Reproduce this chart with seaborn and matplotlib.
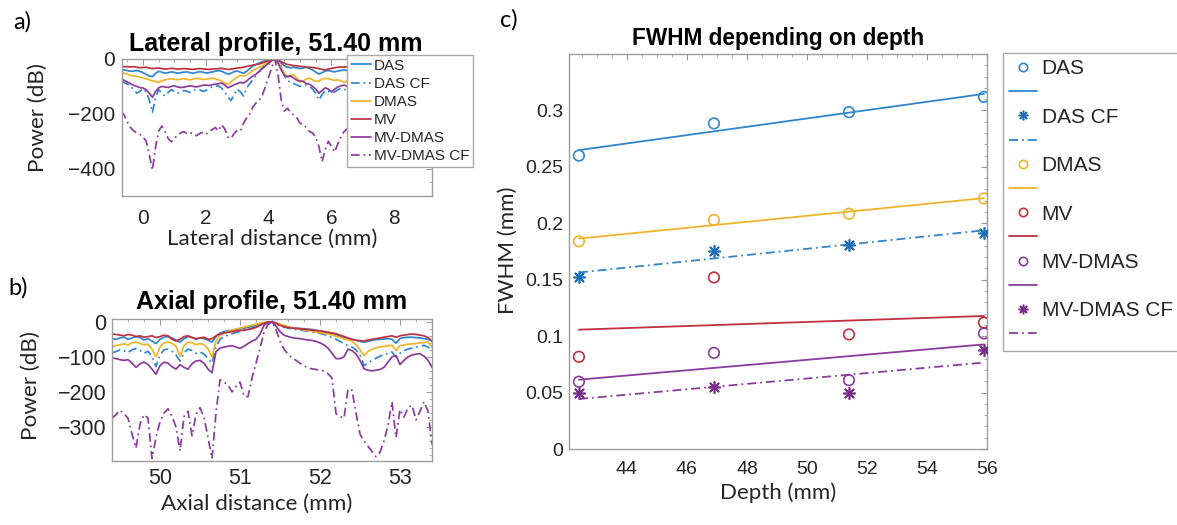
import numpy as np
import pandas as pd
import matplotlib
matplotlib.use("Agg")
import matplotlib.pyplot as plt
from matplotlib.lines import Line2D
from matplotlib.ticker import AutoMinorLocator, FuncFormatter
import seaborn as sns

# ---------------------------------------------------------------- data
methods = ["DAS", "DAS CF", "DMAS", "MV", "MV-DMAS", "MV-DMAS CF"]

# lateral profile at 51.40 mm depth (power in dB), sampled every 0.1 mm
lat_x = np.round(np.arange(-0.7, 7.0001, 0.1), 2)
lat_das = [-38, -40, -42, -45, -44, -42, -45, -50, -56, -62,
           -64, -52, -45, -48, -52, -50, -47, -49, -52, -50,
           -48, -47, -50, -52, -49, -46, -48, -51, -50, -47,
           -45, -42, -44, -50, -55, -52, -46, -44, -48, -52,
           -45, -35, -25, -20, -15, -10, -6, -3, -4, 0,
           -6, -15, -25, -30, -32, -30, -33, -35, -33, -30,
           -35, -40, -48, -55, -50, -44, -42, -45, -47, -44,
           -42, -40, -42, -44, -43, -41, -40, -42]
lat_das_cf = [-80, -86, -92, -100, -110, -125, -118, -108, -120, -150,
              -195, -140, -112, -125, -135, -122, -112, -118, -125, -120,
              -115, -118, -122, -116, -110, -112, -118, -115, -108, -102,
              -100, -98, -106, -120, -138, -152, -130, -110, -120, -135,
              -105, -90, -75, -60, -45, -32, -22, -12, -5, 0,
              -8, -25, -60, -80, -85, -90, -95, -100, -98, -95,
              -100, -110, -125, -150, -130, -115, -118, -125, -120, -112,
              -108, -110, -115, -112, -108, -110, -114, -110]
lat_dmas = [-50, -52, -55, -60, -62, -64, -66, -70, -72, -76,
            -80, -82, -85, -80, -76, -74, -72, -74, -76, -73,
            -72, -74, -76, -73, -70, -72, -75, -74, -72, -70,
            -72, -76, -80, -88, -92, -84, -74, -66, -60, -62,
            -58, -50, -42, -36, -30, -24, -18, -10, -4, 0,
            -12, -30, -55, -62, -60, -58, -70, -85, -80, -72,
            -70, -76, -82, -80, -74, -70, -72, -75, -78, -76,
            -80, -84, -82, -78, -76, -80, -82, -79]
lat_mv = [-27, -28, -28, -29, -28, -30, -32, -31, -30, -33,
          -35, -34, -33, -35, -37, -36, -34, -35, -37, -36,
          -35, -36, -37, -38, -36, -35, -36, -37, -38, -37,
          -36, -35, -34, -36, -38, -37, -35, -33, -32, -30,
          -27, -25, -22, -20, -18, -14, -10, -6, -3, 0,
          -5, -10, -16, -20, -22, -24, -25, -27, -28, -30,
          -30, -31, -33, -35, -38, -40, -37, -34, -32, -30,
          -29, -30, -28, -27, -28, -29, -30, -28]
lat_mv_dmas = [-72, -78, -84, -90, -96, -100, -104, -106, -112, -125,
               -140, -118, -105, -100, -102, -104, -100, -98, -102, -104,
               -103, -100, -98, -100, -102, -99, -96, -95, -97, -94,
               -92, -90, -88, -95, -105, -100, -94, -90, -85, -88,
               -80, -70, -62, -55, -45, -35, -25, -15, -6, 0,
               -15, -40, -60, -65, -62, -70, -78, -80, -82, -90,
               -92, -100, -110, -125, -115, -105, -110, -120, -110, -102,
               -98, -95, -100, -104, -100, -97, -100, -103]
lat_mv_dmas_cf = [-190, -205, -230, -250, -262, -270, -275, -285, -300, -350,
                  -405, -320, -262, -245, -265, -290, -302, -290, -278, -270,
                  -265, -272, -268, -275, -280, -272, -268, -275, -265, -258,
                  -250, -262, -240, -255, -285, -290, -272, -260, -262, -235,
                  -215, -200, -175, -160, -150, -130, -100, -65, -30, 0,
                  -60, -150, -190, -180, -195, -205, -215, -235, -240, -250,
                  -265, -270, -285, -320, -375, -330, -300, -320, -340, -310,
                  -285, -265, -255, -270, -280, -265, -260, -270]

# axial profile around 51.40 mm (power in dB), sampled every 0.05 mm
ax_x = np.round(np.arange(49.40, 53.4001, 0.05), 2)
ax_das = [-48, -50, -46, -44, -50, -46, -42, -45, -52, -48,
          -55, -62, -50, -44, -42, -46, -52, -58, -48, -42,
          -44, -50, -46, -48, -52, -58, -42, -32, -28, -26,
          -24, -22, -20, -18, -16, -13, -10, -6, -3, -1,
          0, -3, -8, -12, -15, -17, -18, -19, -20, -21,
          -22, -24, -26, -28, -30, -33, -36, -40, -44, -47,
          -50, -53, -56, -58, -56, -53, -51, -50, -49, -48,
          -50, -61, -48, -45, -44, -44, -45, -46, -48, -50,
          -55]
ax_das_cf = [-88, -85, -80, -82, -88, -80, -76, -82, -90, -84,
             -98, -128, -95, -80, -78, -84, -95, -112, -88, -78,
             -82, -90, -86, -92, -105, -118, -72, -50, -42, -38,
             -34, -30, -28, -24, -22, -18, -14, -8, -4, -1,
             0, -6, -12, -15, -18, -20, -22, -24, -25, -27,
             -29, -31, -33, -36, -40, -45, -50, -56, -62, -68,
             -72, -80, -95, -125, -118, -110, -104, -98, -94, -90,
             -86, -101, -90, -82, -78, -75, -72, -70, -67, -72,
             -82]
ax_dmas = [-70, -68, -65, -63, -66, -60, -58, -62, -66, -64,
           -78, -100, -72, -60, -58, -62, -70, -98, -68, -58,
           -60, -66, -62, -65, -78, -100, -55, -38, -32, -28,
           -24, -20, -18, -15, -12, -10, -7, -4, -2, -1,
           0, -4, -7, -10, -14, -17, -19, -21, -23, -25,
           -27, -29, -31, -33, -35, -38, -41, -45, -49, -52,
           -55, -65, -80, -96, -85, -78, -74, -72, -70, -68,
           -67, -82, -68, -66, -64, -63, -62, -60, -59, -58,
           -72]
ax_mv = [-35, -36, -38, -40, -36, -38, -42, -40, -44, -42,
         -40, -45, -42, -38, -40, -50, -55, -50, -42, -40,
         -45, -48, -46, -44, -50, -48, -40, -35, -32, -30,
         -28, -26, -25, -24, -22, -20, -16, -10, -4, -1,
         0, -4, -10, -14, -16, -18, -19, -20, -21, -22,
         -24, -25, -26, -28, -30, -32, -34, -38, -42, -46,
         -50, -52, -54, -55, -52, -50, -48, -46, -44, -42,
         -40, -44, -40, -38, -36, -35, -36, -38, -40, -45,
         -55]
ax_mv_dmas = [-103, -105, -108, -110, -108, -118, -130, -120, -115, -122,
              -135, -150, -125, -115, -118, -128, -135, -122, -130, -135,
              -120, -112, -110, -118, -135, -145, -85, -75, -72, -70,
              -68, -72, -76, -70, -62, -55, -50, -35, -10, -2,
              0, -12, -28, -38, -42, -45, -47, -48, -50, -52,
              -53, -56, -60, -66, -75, -90, -105, -105, -100, -78,
              -82, -92, -110, -134, -138, -140, -138, -136, -130, -115,
              -100, -96, -122, -110, -100, -95, -92, -91, -98, -110,
              -130]
ax_mv_dmas_cf = [-275, -265, -252, -262, -275, -320, -360, -292, -265, -275,
                 -390, -330, -285, -260, -248, -270, -300, -368, -270, -255,
                 -325, -265, -245, -272, -330, -390, -260, -165, -172, -180,
                 -200, -185, -172, -212, -214, -160, -118, -75, -30, -8,
                 0, -22, -55, -78, -92, -102, -110, -118, -125, -132,
                 -134, -136, -138, -140, -148, -160, -262, -270, -275, -192,
                 -195, -260, -320, -340, -355, -370, -385, -372, -340, -295,
                 -228, -330, -250, -272, -245, -238, -280, -255, -228, -255,
                 -350]

# FWHM (mm) against depth (mm)
depth = [42.4, 46.9, 51.4, 55.9]
fwhm_das = [0.260, 0.2885, 0.2985, 0.312]
fwhm_das_cf = [0.152, 0.1755, 0.181, 0.1917]
fwhm_dmas = [0.184, 0.203, 0.2085, 0.222]
fwhm_mv = [0.0817, 0.152, 0.1015, 0.112]
fwhm_mv_dmas = [0.0596, 0.0852, 0.061, 0.1024]
fwhm_mv_dmas_cf = [0.0498, 0.0551, 0.0493, 0.0876]

# ---------------------------------------------------------------- styles
BLUE = "#2f86cc"
BLUE_DARK = "#1f6fb8"
YELLOW = "#f0b429"
RED = "#c0303f"
PURPLE = "#8a3c9c"
DASHDOT = (0, (5, 2.2, 1, 2.2))

colors = dict(zip(methods, [BLUE, BLUE, YELLOW, RED, PURPLE, PURPLE]))
lstyles = dict(zip(methods, ["-", DASHDOT, "-", "-", "-", DASHDOT]))

sns.set_style("white")
plt.rcParams.update({
    "font.family": ["Liberation Sans", "DejaVu Sans"],
    "axes.unicode_minus": True,
})
LABEL_FONT = ["Lato", "DejaVu Sans"]
SPINE = "#9c9c9c"
TXT = "#262626"

W, H = 1177, 525
fig = plt.figure(figsize=(W / 100, H / 100), dpi=100)


def axes_px(left, top, right, bottom):
    return fig.add_axes([left / W, 1 - bottom / H, (right - left) / W, (bottom - top) / H])


def style_axes(ax, size, xpad, ypad):
    for s in ax.spines.values():
        s.set_visible(True)
        s.set_color(SPINE)
        s.set_linewidth(1.0)
    ax.xaxis.set_minor_locator(AutoMinorLocator())
    ax.yaxis.set_minor_locator(AutoMinorLocator())
    ax.tick_params(which="both", direction="in", top=True, right=True,
                   color=SPINE, labelcolor=TXT, labelsize=size)
    ax.tick_params(which="major", length=4, width=0.8)
    ax.tick_params(which="minor", length=2.2, width=0.6)
    ax.tick_params(axis="x", which="major", pad=xpad)
    ax.tick_params(axis="y", which="major", pad=ypad)
    ax.grid(False)


def place_labels(ax, xlabel, ylabel, xpos, ypos, size):
    ax.set_xlabel(xlabel, fontsize=size, family=LABEL_FONT, color=TXT, va="center", ha="center")
    ax.set_ylabel(ylabel, fontsize=size, family=LABEL_FONT, color=TXT, va="center", ha="center")
    ax.xaxis.set_label_coords(*xpos)
    ax.yaxis.set_label_coords(*ypos)


# ---------------------------------------------------------------- panel a
ax_a = axes_px(122, 59, 432, 196)
lat = {"DAS": lat_das, "DAS CF": lat_das_cf, "DMAS": lat_dmas, "MV": lat_mv,
       "MV-DMAS": lat_mv_dmas, "MV-DMAS CF": lat_mv_dmas_cf}
for m in methods:
    sns.lineplot(x=lat_x, y=lat[m], ax=ax_a, color=colors[m], linestyle=lstyles[m],
                 linewidth=1.25, label=m, sort=False, errorbar=None)
ax_a.set_xlim(-0.67, 9.2)
ax_a.set_ylim(-500, 0)
ax_a.set_xticks([0, 2, 4, 6, 8])
ax_a.set_yticks([-400, -200, 0])
style_axes(ax_a, 15, 9, 5)
ax_a.set_title("Lateral profile, 51.40 mm", fontsize=18, fontweight="bold", color="black",
               x=0.497, y=1.109, va="center", pad=0)
place_labels(ax_a, "Lateral distance (mm)", "Power (dB)", (0.484, -0.314), (-0.271, 0.569), 16.2)
ax_a.legend(loc="upper left", bbox_to_anchor=(347 / W, 1 - 55 / H),
            bbox_transform=fig.transFigure, fontsize=11, frameon=True,
            fancybox=False, edgecolor="#aaaaaa", framealpha=1, borderpad=0.25,
            labelspacing=0.27, handlelength=1.3, handletextpad=0.2, borderaxespad=0)

# ---------------------------------------------------------------- panel b
ax_b = axes_px(112, 319, 432, 461)
axi = {"DAS": ax_das, "DAS CF": ax_das_cf, "DMAS": ax_dmas, "MV": ax_mv,
       "MV-DMAS": ax_mv_dmas, "MV-DMAS CF": ax_mv_dmas_cf}
for m in methods:
    sns.lineplot(x=ax_x, y=axi[m], ax=ax_b, color=colors[m], linestyle=lstyles[m],
                 linewidth=1.25, sort=False, errorbar=None, legend=False)
ax_b.set_xlim(49.4, 53.4)
ax_b.set_ylim(-397, 8)
ax_b.set_xticks([50, 51, 52, 53])
ax_b.set_yticks([-300, -200, -100, 0])
style_axes(ax_b, 15.5, 5, 4)
ax_b.set_title("Axial profile, 51.40 mm", fontsize=18, fontweight="bold", color="black",
               x=0.5, y=1.12, va="center", pad=0)
place_labels(ax_b, "Axial distance (mm)", "Power (dB)", (0.453, -0.303), (-0.255, 0.532), 16.2)

# ---------------------------------------------------------------- panel c
ax_c = axes_px(569, 54, 987, 449)
fw = {"DAS": fwhm_das, "DAS CF": fwhm_das_cf, "DMAS": fwhm_dmas, "MV": fwhm_mv,
      "MV-DMAS": fwhm_mv_dmas, "MV-DMAS CF": fwhm_mv_dmas_cf}
mk = {"DAS": "o", "DAS CF": (8, 2, 0), "DMAS": "o", "MV": "o",
      "MV-DMAS": "o", "MV-DMAS CF": (8, 2, 0)}
mcol = {"DAS": BLUE, "DAS CF": BLUE_DARK, "DMAS": YELLOW, "MV": RED,
        "MV-DMAS": PURPLE, "MV-DMAS CF": "#7a2c8c"}
handles, labels = [], []
for m in methods:
    df = pd.DataFrame({"depth": depth, "fwhm": fw[m]})
    sns.regplot(data=df, x="depth", y="fwhm", ax=ax_c, ci=None, scatter=False,
                line_kws=dict(color=colors[m], linestyle=lstyles[m], linewidth=1.3))
    if mk[m] == "o":
        sns.scatterplot(data=df, x="depth", y="fwhm", ax=ax_c, marker="o", s=58,
                        facecolor="none", edgecolor=mcol[m], linewidth=1.2, zorder=3)
        h = Line2D([], [], marker="o", linestyle="none", markersize=6,
                   markerfacecolor="none", markeredgecolor=mcol[m], markeredgewidth=1.2)
    else:
        sns.scatterplot(data=df, x="depth", y="fwhm", ax=ax_c, marker=mk[m], s=70,
                        color=mcol[m], linewidth=1.2, zorder=3)
        h = Line2D([], [], marker=mk[m], linestyle="none", markersize=7,
                   color=mcol[m], markeredgewidth=1.1)
    handles += [h, Line2D([], [], color=colors[m], linestyle=lstyles[m], linewidth=1.3)]
    labels += [m, ""]
ax_c.set_xlim(42.07, 56.0)
ax_c.set_ylim(0, 0.35)
ax_c.set_xticks([44, 46, 48, 50, 52, 54, 56])
ax_c.set_yticks([0, 0.05, 0.1, 0.15, 0.2, 0.25, 0.3])
ax_c.yaxis.set_major_formatter(FuncFormatter(lambda v, p: f"{v:g}"))
style_axes(ax_c, 14, 9, 4)
ax_c.set_title("FWHM depending on depth", fontsize=16.3, fontweight="bold", color="black",
               x=0.5, y=1.038, va="center", pad=0)
place_labels(ax_c, "Depth (mm)", "FWHM (mm)", (0.5, -0.111), (-0.146, 0.504), 16)
ax_c.legend(handles, labels, loc="upper left", bbox_to_anchor=(1003 / W, 1 - 53 / H),
            bbox_transform=fig.transFigure, fontsize=15, frameon=True,
            fancybox=False, edgecolor="#aaaaaa", framealpha=1, borderpad=0.3,
            labelspacing=0.25, handlelength=1.35, handletextpad=0.2, borderaxespad=0)

# ---------------------------------------------------------------- panel tags
for tag, (px, py) in {"a)": (22, 22), "b)": (18, 288), "c)": (509, 20)}.items():
    fig.text(px / W, 1 - py / H, tag, fontsize=17, family=LABEL_FONT, color="black",
             ha="center", va="center")

fig.savefig("out.png", dpi=100, facecolor="white")
